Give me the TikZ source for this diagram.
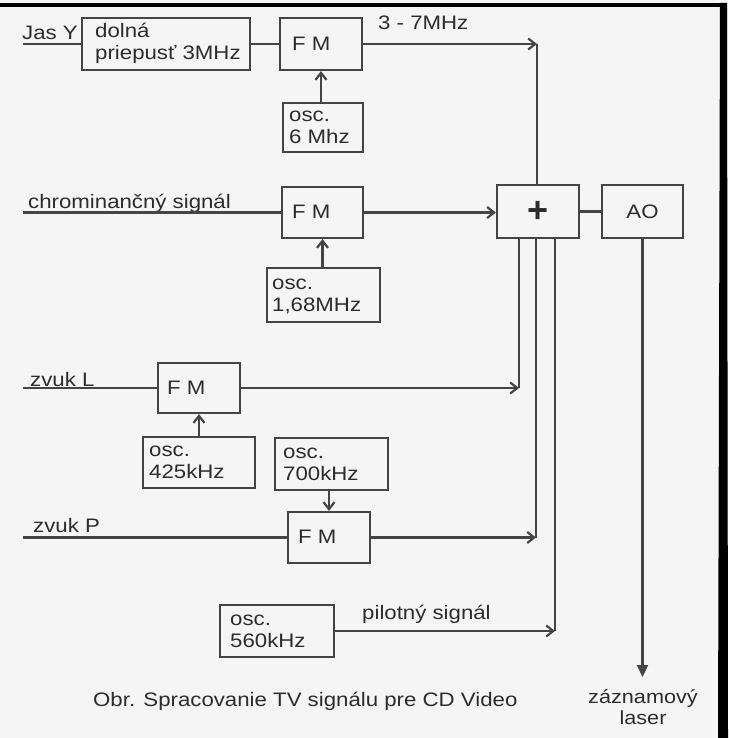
\documentclass[tikz,border=0pt]{standalone}
\usepackage{fontspec}
\setmainfont{Liberation Sans}
\usetikzlibrary{arrows.meta}
\definecolor{ink}{HTML}{2C2C2C}
\definecolor{wire}{HTML}{444444}
\definecolor{paper}{HTML}{F5F5F5}
\newcommand{\TT}[1]{\scalebox{1.14}[1]{\begin{tabular}{@{}l@{}}#1\end{tabular}}}
\newcommand{\TL}[1]{\scalebox{1.14}[1]{#1}}
\newcommand{\mkbox}[5]{\node[blk, minimum width={#4-#2}, minimum height={#5-#3}] (#1) at ({(#2+#4)/2},{(#3+#5)/2}) {};}
\begin{document}
\begin{tikzpicture}[x=1pt,y=-1pt,
  blk/.style={draw=wire, line width=2.2pt, inner sep=0pt, fill=paper},
  txt/.style={inner sep=0pt, text=ink, font=\fontsize{19.5}{22}\selectfont},
  wln/.style={draw=wire, line width=2.2pt},
  arr/.style={wln, -{Straight Barb[length=7pt,width=11pt]}},
  farr/.style={wln, -{Triangle[length=12pt,width=11pt]}}
]
\useasboundingbox (0,0) rectangle (728,738);
\fill[paper] (0,0) rectangle (728,738);
% frame
\draw[line width=4pt, black] (0,5) -- (727,5);
\fill[black] (720,3) -- (727,3) -- (728,738) -- (718,738) -- cycle;

% boxes
\mkbox{LP}{82}{18}{250}{70}
\mkbox{FM1}{280}{18}{362}{70}
\mkbox{OSC6}{283}{103}{363}{152}
\mkbox{FM2}{282}{187}{363}{238}
\mkbox{OSC168}{267}{268}{380}{322}
\mkbox{PLUS}{497}{185}{579}{238}
\mkbox{AO}{602}{185}{683}{238}
\mkbox{FM3}{158}{363}{240}{413}
\mkbox{OSC425}{143}{437}{255}{488}
\mkbox{OSC700}{275}{438}{388}{490}
\mkbox{FM4}{288}{512}{370}{563}
\mkbox{OSC560}{220}{605}{334}{657}

% box texts
\node[txt, anchor=west] (tLP) at (95,44) {\TT{dolná\\priepusť 3MHz}};
\node[txt, anchor=west] (tFM1) at (292,44) {\TL{F M}};
\node[txt, anchor=west] (tOSC6) at (289,128) {\TT{osc.\\6 Mhz}};
\node[txt, anchor=west] (tFM2) at (292,212) {\TL{F M}};
\node[txt, anchor=west] (tOSC168) at (272,296) {\TT{osc.\\1,68MHz}};
\node[txt, font=\fontsize{36}{36}\selectfont\bfseries] (tPLUS) at (PLUS) {+};
\node[txt] (tAO) at (AO) {\TL{AO}};
\node[txt, anchor=west] (tFM3) at (167,388) {\TL{F M}};
\node[txt, anchor=west] (tOSC425) at (149,463) {\TT{osc.\\425kHz}};
\node[txt, anchor=west] (tOSC700) at (283,465) {\TT{osc.\\700kHz}};
\node[txt, anchor=west] (tFM4) at (298,537) {\TL{F M}};
\node[txt, anchor=west] (tOSC560) at (230,632) {\TT{osc.\\560kHz}};

% free labels
\node[txt, anchor=west] (lJas) at (22,33) {\TL{Jas Y}};
\node[txt, anchor=west] (l37) at (378,23) {\TL{3 - 7MHz}};
\node[txt, anchor=west] (lChr) at (28,203) {\TL{chrominančný signál}};
\node[txt, anchor=west] (lZL) at (30,380) {\TL{zvuk L}};
\node[txt, anchor=west] (lZP) at (33,526) {\TL{zvuk P}};
\node[txt, anchor=west] (lPil) at (362,614) {\TL{pilotný signál}};
\node[txt, anchor=west] (lCap) at (93,701) {\TL{Obr. Spracovanie TV signálu pre CD Video}};
\node[txt, align=center, font=\fontsize{19}{21}\selectfont] (lLas) at (643,707) {\TL{záznamový}\\\TL{laser}};

% coordinates
\coordinate (jasin) at (23,44);
\coordinate (chin) at (23,212.5);
\coordinate (zlin) at (23,388);
\coordinate (zpin) at (23,537.5);
\coordinate (c37) at (537,44);
\coordinate (cL) at (519,388);
\coordinate (cP) at (536,537.5);
\coordinate (cPil) at (555,631);
\coordinate (laser) at (642.5,677);

% connectors
\draw[wln] (jasin) -- (LP.west);
\draw[wln] (LP.east) -- (FM1.west);
\draw[arr] (FM1.east) -- (c37);
\draw[wln] (c37) -- (c37 |- PLUS.north);
\draw[arr] (FM1.south |- OSC6.north) -- (FM1.south);

\draw[wln] (chin) -- (FM2.west);
\draw[arr] (FM2.east) -- (FM2.east -| PLUS.west);
\draw[arr] (FM2.south |- OSC168.north) -- (FM2.south);
\draw[wln] (PLUS.east) -- (PLUS.east -| AO.west);
\draw[farr] (AO.south) -- (laser);

\draw[wln] (zlin) -- (FM3.west);
\draw[arr] (FM3.east) -- (cL);
\draw[wln] (cL |- PLUS.south) -- (cL);
\draw[arr] (FM3.south |- OSC425.north) -- (FM3.south);

\draw[wln] (zpin) -- (FM4.west);
\draw[arr] (FM4.east) -- (cP);
\draw[wln] (cP |- PLUS.south) -- (cP);
\draw[arr] (FM4.north |- OSC700.south) -- (FM4.north);

\draw[arr] (OSC560.east) -- (cPil);
\draw[wln] (cPil |- PLUS.south) -- (cPil);
\end{tikzpicture}
\end{document}
